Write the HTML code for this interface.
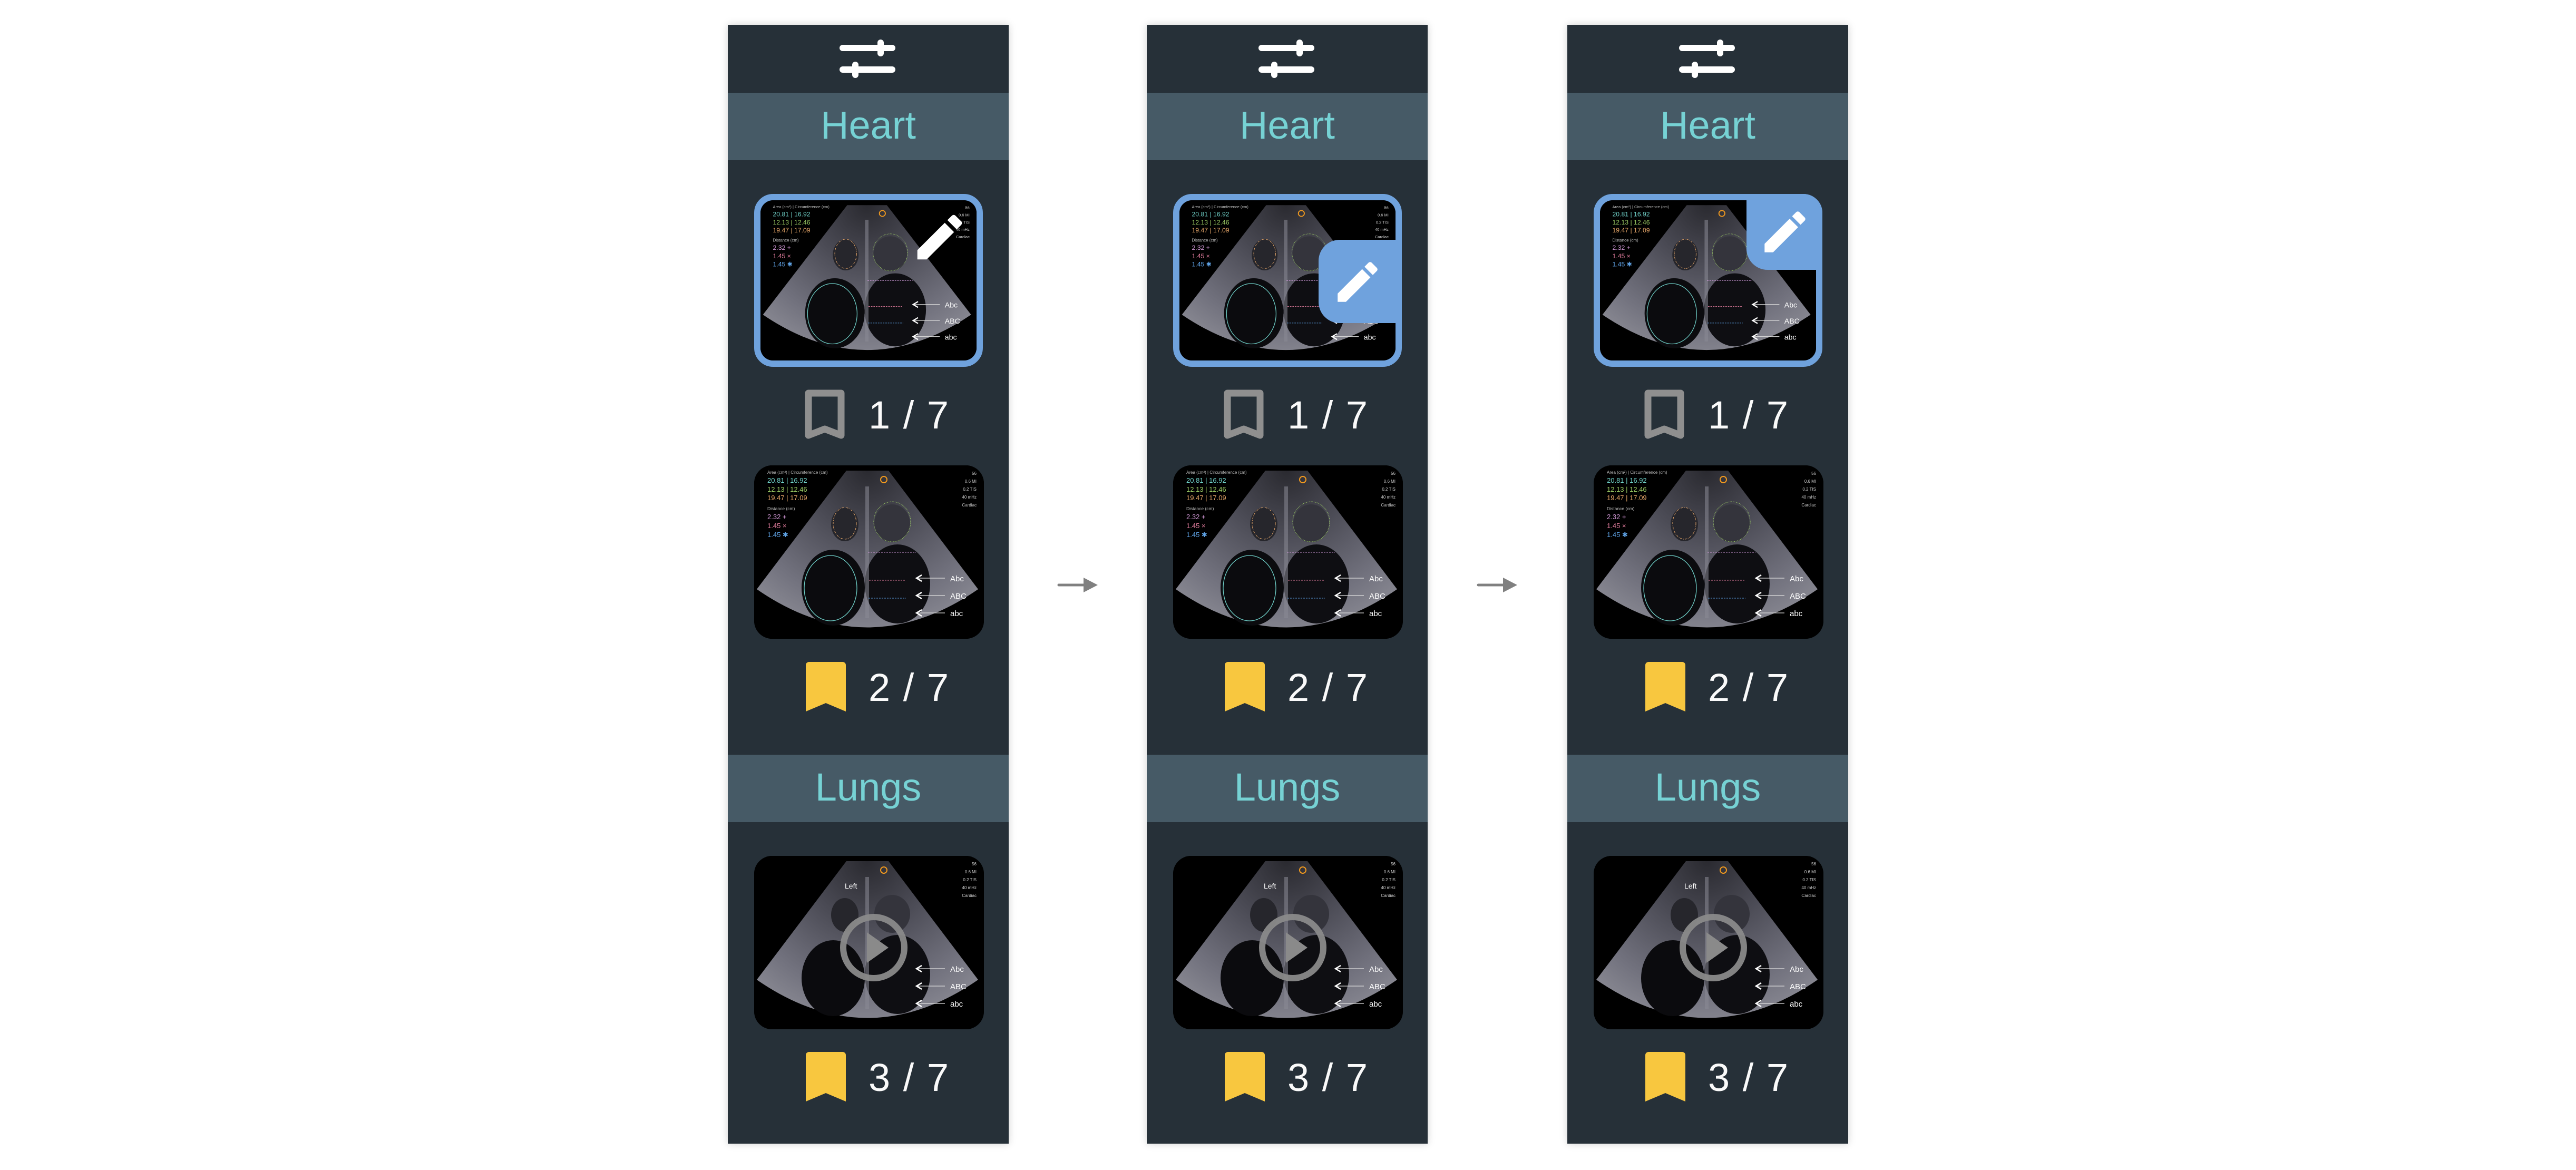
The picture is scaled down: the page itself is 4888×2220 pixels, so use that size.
<!DOCTYPE html>
<html><head><meta charset="utf-8">
<style>
*{margin:0;padding:0;box-sizing:border-box}
body{width:4888px;height:2220px;background:#fff;position:relative;overflow:hidden;font-family:"Liberation Sans",sans-serif}
.panel{position:absolute;top:47px;width:533px;height:2123px;background:#263038;box-shadow:0 0 14px rgba(0,0,0,0.18)}
.abs{position:absolute}
.band{position:absolute;left:0;width:533px;height:128px;background:#465a66}
.band span{position:absolute;left:0;width:533px;text-align:center;top:62px;line-height:0;font-size:74px;color:#76d2d4}
.thumb{position:absolute;left:50px;width:436px;height:329px;border-radius:34px;overflow:hidden;background:#000}
.thumb svg{display:block}
.count{position:absolute;left:267px;font-size:74px;color:#fafafa;line-height:0;letter-spacing:2px}
.arrow{position:absolute}
</style></head><body>
<svg class="arrow" style="left:2000px;top:1090px" width="90" height="40"><line x1="9" y1="20" x2="60" y2="20" stroke="#808080" stroke-width="5" stroke-linecap="round"/><polygon points="56,6 83,20 56,34" fill="#808080"/></svg>
<svg class="arrow" style="left:2796px;top:1090px" width="90" height="40"><line x1="9" y1="20" x2="60" y2="20" stroke="#808080" stroke-width="5" stroke-linecap="round"/><polygon points="56,6 83,20 56,34" fill="#808080"/></svg>
<div id="root"></div>
<script>
const panelLefts=[1381,2176,2974];
const PENCIL='M3 17.25V21h3.75L17.81 9.94l-3.75-3.75L3 17.25zM20.71 7.04a1 1 0 0 0 0-1.41l-2.34-2.34a1 1 0 0 0-1.41 0l-1.83 1.83 3.75 3.75 1.83-1.83z';
function echo(kind){
  let s='<svg width="436" height="329" viewBox="0 0 436 329">'+
  '<defs><radialGradient id="g'+kind+'" cx="215" cy="10" r="330" gradientUnits="userSpaceOnUse">'+
  '<stop offset="0" stop-color="#2a2a30"/><stop offset="0.35" stop-color="#4a4a54"/><stop offset="0.75" stop-color="#72727e"/><stop offset="0.93" stop-color="#85858f"/><stop offset="1" stop-color="#1a1a1e"/></radialGradient></defs>'+
  '<rect width="436" height="329" fill="#000"/>'+
  '<path d="M175 10 L255 10 L425 235 Q215 380 5 235 Z" fill="url(#g'+kind+')"/>'+
  '<ellipse cx="150" cy="232" rx="60" ry="72" fill="#0b0b0e"/>'+
  '<ellipse cx="272" cy="225" rx="62" ry="75" fill="#0e0e12"/>'+
  '<ellipse cx="172" cy="112" rx="26" ry="32" fill="#26262c"/>'+
  '<ellipse cx="262" cy="110" rx="34" ry="36" fill="#34343c"/>'+
  '<rect x="211" y="40" width="7" height="250" fill="#8a8a96" opacity="0.55"/>'+
  '<circle cx="246" cy="27" r="6" fill="none" stroke="#f39a1e" stroke-width="2"/>';
  const rt=['56','0.6 MI','0.2 TIS','40 mHz','Cardiac'];
  rt.forEach((t,i)=>{s+='<text x="422" y="'+(18+i*15)+'" text-anchor="end" font-size="8" fill="#ccc" font-family="Liberation Sans">'+t+'</text>';});
  const labs=['Abc','ABC','abc'];
  labs.forEach((t,i)=>{const y=214+i*33;s+='<line x1="308" y1="'+y+'" x2="362" y2="'+y+'" stroke="#ddd" stroke-width="1.2"/><polyline points="318,'+(y-6)+' 308,'+y+' 318,'+(y+6)+'" fill="none" stroke="#fff" stroke-width="2.5"/><text x="372" y="'+(y+6)+'" font-size="15" fill="#fff" font-family="Liberation Sans">'+t+'</text>';});
  if(kind==='heart'){
    s+='<ellipse cx="145" cy="233" rx="50" ry="62" fill="none" stroke="#6fd0c8" stroke-width="1.3"/>'+
    '<ellipse cx="172" cy="110" rx="22" ry="30" fill="none" stroke="#e8a86a" stroke-width="1" stroke-dasharray="4 2 1 2"/>'+
    '<ellipse cx="262" cy="107" rx="35" ry="38" fill="none" stroke="#9ccc65" stroke-width="1" stroke-dasharray="1.5 1.5"/>'+
    '<line x1="216" y1="165" x2="307" y2="165" stroke="#c996d4" stroke-dasharray="3 2"/>'+
    '<line x1="218" y1="218" x2="287" y2="218" stroke="#e67fa0" stroke-dasharray="3 2"/>'+
    '<line x1="217" y1="252" x2="288" y2="252" stroke="#5fa3e6" stroke-dasharray="3 2"/>'+
    '<text x="25" y="16" font-size="8" fill="#bbb" font-family="Liberation Sans">Area (cm²) | Circumference (cm)</text>';
    const rows=[['20.81 | 16.92','#6fd0c8',33],['12.13 | 12.46','#9ccc65',50],['19.47 | 17.09','#e8a86a',66],['2.32 +','#d49ad8',102],['1.45 ×','#e67fa0',119],['1.45 ✱','#5fa3e6',136]];
    rows.forEach(r=>{s+='<text x="25" y="'+r[2]+'" font-size="13" fill="'+r[1]+'" font-family="Liberation Sans">'+r[0]+'</text>';});
    s+='<text x="25" y="85" font-size="8.5" fill="#bbb" font-family="Liberation Sans">Distance (cm)</text>';
  } else {
    s+='<text x="172" y="62" font-size="14" fill="#fff" font-family="Liberation Sans">Left</text>'+
    '<circle cx="227" cy="174" r="58" fill="none" stroke="#8a8a8a" stroke-width="12" opacity="0.95"/>'+
    '<polygon points="214,145 214,203 255,174" fill="#8a8a8a"/>';
  }
  return s+'</svg>';
}
function bookmark(filled){
  if(filled) return '<svg width="76" height="96" viewBox="0 0 76 96"><path d="M6 0h64a6 6 0 0 1 6 6v88l-38-16-38 16V6a6 6 0 0 1 6-6z" fill="#f8c73f"/></svg>';
  return '<svg width="76" height="96" viewBox="0 0 76 96"><path d="M7 7h62v80l-31-12-31 12z" fill="none" stroke="#8f8f8f" stroke-width="13" stroke-linejoin="round"/></svg>';
}
const root=document.getElementById('root');
panelLefts.forEach((L,pi)=>{
  const p=document.createElement('div');
  p.className='panel';p.style.left=L+'px';
  
  
  let h='';
  h+='<svg class="abs" style="left:211px;top:26px" width="110" height="80"><line x1="7" y1="18" x2="101" y2="18" stroke="#fff" stroke-width="12" stroke-linecap="round"/><line x1="7" y1="59" x2="101" y2="59" stroke="#fff" stroke-width="12" stroke-linecap="round"/><line x1="79" y1="8" x2="79" y2="28" stroke="#fff" stroke-width="12" stroke-linecap="round"/><line x1="31" y1="50" x2="31" y2="69" stroke="#fff" stroke-width="12" stroke-linecap="round"/></svg>';
  h+='<div class="band" style="top:129px"><span>Heart</span></div>';
  h+='<div class="band" style="top:1385px"><span>Lungs</span></div>';
  h+='<div class="thumb" style="top:321px;height:328px;border:12px solid #6fa2dd;border-radius:36px;width:434px">'+echo('heart').replace('width="436" height="329"','width="410" height="304" preserveAspectRatio="none"')+'</div>';
  if(pi===0){
    h+='<svg class="abs" style="left:355px;top:356px" width="94" height="94" viewBox="2 2 20 20"><path d="'+PENCIL+'" fill="#fff"/></svg>';
  } else if(pi===1){
    h+='<div class="abs" style="left:326px;top:408px;width:148px;height:158px;background:#6fa2dd;border-radius:40px 0 0 40px"></div>';
    h+='<svg class="abs" style="left:358px;top:446px" width="84" height="84" viewBox="2 2 20 20"><path d="'+PENCIL+'" fill="#fff"/></svg>';
  } else {
    h+='<div class="abs" style="left:340px;top:321px;width:144px;height:144px;background:#6fa2dd;border-radius:0 36px 0 40px"></div>';
    h+='<svg class="abs" style="left:370px;top:350px" width="86" height="86" viewBox="2 2 20 20"><path d="'+PENCIL+'" fill="#fff"/></svg>';
  }
  h+='<div class="abs" style="left:146px;top:692px">'+bookmark(false)+'</div>';
  h+='<div class="count" style="top:741px">1 / 7</div>';
  h+='<div class="thumb" style="top:836px">'+echo('heart')+'</div>';
  h+='<div class="abs" style="left:148px;top:1209px">'+bookmark(true)+'</div>';
  h+='<div class="count" style="top:1258px">2 / 7</div>';
  h+='<div class="thumb" style="top:1577px">'+echo('lungs')+'</div>';
  h+='<div class="abs" style="left:148px;top:1949px">'+bookmark(true)+'</div>';
  h+='<div class="count" style="top:1998px">3 / 7</div>';
  p.innerHTML=h;
  root.appendChild(p);
});
</script>
</body></html>
